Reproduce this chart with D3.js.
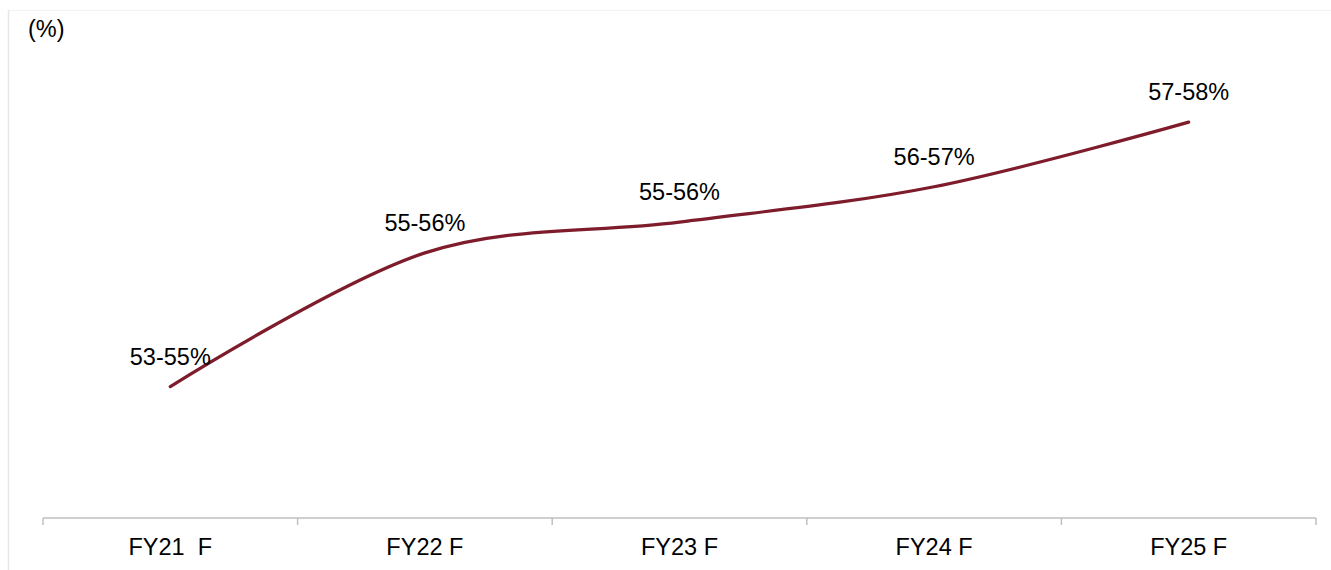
<!DOCTYPE html>
<html>
<head>
<meta charset="utf-8">
<script src="https://cdn.jsdelivr.net/npm/d3@7/dist/d3.min.js"></script>
<style>
  html, body { margin: 0; padding: 0; background: #fff; }
  svg { display: block; font-family: "Liberation Sans", Arial, sans-serif; }
</style>
</head>
<body>
<svg id="chart" width="1331" height="570"></svg>
<script>
const categories = ["FY21  F", "FY22 F", "FY23 F", "FY24 F", "FY25 F"];
const values = [54.0, 55.78, 56.19, 56.66, 57.52];
const labels = ["53-55%", "55-56%", "55-56%", "56-57%", "57-58%"];
const unitLabel = "(%)";

const W = 1331, H = 570;
const FS = 23.5;
const svg = d3.select("#chart");

// faint frame
svg.append("line").attr("x1", 8).attr("x2", W).attr("y1", 10.5).attr("y2", 10.5)
  .attr("stroke", "#f2f2f2").attr("stroke-width", 1);
svg.append("line").attr("x1", 8.5).attr("x2", 8.5).attr("y1", 10).attr("y2", H)
  .attr("stroke", "#e6e6e6").attr("stroke-width", 1.5);

const x = d3.scaleBand().domain(categories).range([43, 1316]).paddingInner(0).paddingOuter(0);
const y = d3.scaleLinear().domain([52.25, 59]).range([518, 11]);

// x axis
const axisY = 518;
const gx = svg.append("g").attr("transform", `translate(0,${axisY})`)
  .call(d3.axisBottom(x).tickSize(0).tickPadding(0));
gx.select(".domain").attr("stroke", "#bfbfbf").attr("stroke-width", 1.5)
  .attr("d", `M${x.range()[0]},0H${x.range()[1]}`);
gx.selectAll(".tick text")
  .attr("y", 37).attr("dy", 0)
  .attr("font-size", FS).attr("fill", "#000")
  .attr("font-family", "Liberation Sans, Arial, sans-serif")
  .style("white-space", "pre").attr("xml:space", "preserve");
// boundary tick marks
const bounds = categories.map(c => x(c)).concat([x.range()[1]]);
gx.selectAll(".bt").data(bounds).enter().append("line")
  .attr("x1", d => d).attr("x2", d => d).attr("y1", 0).attr("y2", 7)
  .attr("stroke", "#bfbfbf").attr("stroke-width", 1.5);

// unit label
svg.append("text").attr("x", 28).attr("y", 37).attr("font-size", FS)
  .attr("fill", "#000").text(unitLabel);

const data = categories.map((c, i) => ({ c, v: values[i], l: labels[i] }));
const cx = d => x(d.c) + x.bandwidth() / 2;

const line = d3.line().x(cx).y(d => y(d.v)).curve(d3.curveCardinal.tension(0));
svg.append("path").datum(data).attr("d", line)
  .attr("fill", "none").attr("stroke", "#7e1c2b").attr("stroke-width", 3.2)
  .attr("stroke-linecap", "round");

svg.selectAll(".lbl").data(data).enter().append("text")
  .attr("class", "lbl")
  .attr("x", cx).attr("y", d => y(d.v) - 22)
  .attr("text-anchor", "middle").attr("font-size", FS).attr("fill", "#000")
  .text(d => d.l);
</script>
</body>
</html>
